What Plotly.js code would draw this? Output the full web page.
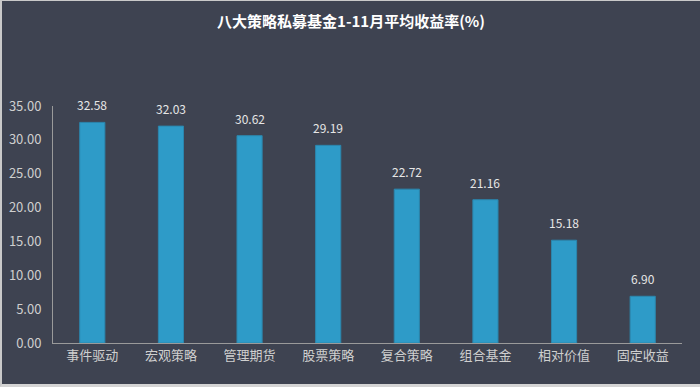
<!DOCTYPE html>
<html>
<head>
<meta charset="utf-8">
<script src="https://cdn.plot.ly/plotly-3.0.1.min.js"></script>
<style>
html,body{margin:0;padding:0;background:#ffffff;}
#wrap{width:700px;height:387px;box-sizing:border-box;border-top:1px solid #c9c9c9;border-left:2px solid #c9c9c9;border-bottom:3px solid #d4d4d4;background:#3e4351;overflow:hidden;}
#chart{width:698px;height:383px;}
</style>
</head>
<body>
<div id="wrap"><div id="chart"></div></div>
<script>
const categories = ["事件驱动","宏观策略","管理期货","股票策略","复合策略","组合基金","相对价值","固定收益"];
const values = [32.58, 32.03, 30.62, 29.19, 22.72, 21.16, 15.18, 6.90];
const yTicks = [0, 5, 10, 15, 20, 25, 30, 35];
const yTickText = yTicks.map(v => v.toFixed(2));
const chartTitle = "八大策略私募基金1-11月平均收益率(%)";

const font = '"Microsoft YaHei","Noto Sans CJK SC","Noto Sans",sans-serif';

const labels = categories.map((c, i) => ({
  x: c, y: values[i], xref: 'x', yref: 'y',
  text: values[i].toFixed(2), showarrow: false,
  yanchor: 'bottom', yshift: 7,
  font: {color: '#e6e6e6', size: 12, family: font}
}));

Plotly.newPlot('chart', [{
  type: 'bar',
  x: categories,
  y: values,
  marker: {color: '#2e9bc8', line: {color: '#2b86ad', width: 1}},
  width: 0.32,
  hoverinfo: 'none'
}], {
  width: 698, height: 383,
  paper_bgcolor: '#3e4351',
  plot_bgcolor: '#3e4351',
  margin: {l: 51, r: 18, t: 105, b: 41},
  title: {text: '<b>' + chartTitle + '</b>', x: 0.5, xanchor: 'center', y: 0.945, yanchor: 'middle', font: {color: '#ffffff', size: 15, family: font}},
  xaxis: {
    showline: true, linecolor: '#9a9a9a', linewidth: 1,
    ticks: '', showgrid: false, zeroline: false,
    tickfont: {color: '#cfcfcf', size: 13, family: font}
  },
  yaxis: {
    range: [0, 35], tickvals: yTicks, ticktext: yTickText,
    showline: true, linecolor: '#9a9a9a', linewidth: 1,
    ticks: '', showgrid: false, zeroline: false,
    tickfont: {color: '#cfcfcf', size: 13, family: font},
    ticklabelstandoff: 8
  },
  annotations: labels,
  bargap: 0.68,
  showlegend: false
}, {displayModeBar: false, staticPlot: true});
</script>
</body>
</html>
